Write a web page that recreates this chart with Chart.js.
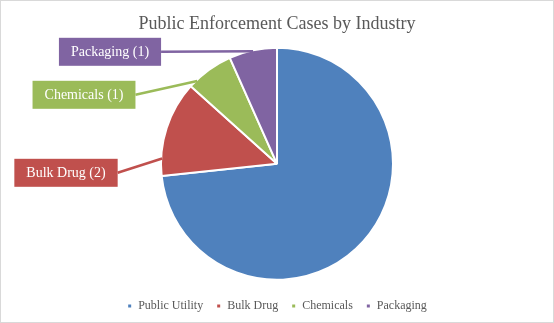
<!DOCTYPE html>
<html lang="en">
<head>
    <meta charset="UTF-8">
    <title>Public Enforcement Cases by Industry</title>
    <style>
        body {
            margin: 0;
            background-color: #fff;
        }

        .chart-box {
            width: 554px;
            height: 323px;
            box-sizing: border-box;
            border: 1px solid #d9d9d9;
            position: relative;
        }
    </style>
</head>
<body>

    <div class="chart-box">
        <canvas id="industryChart"></canvas>
    </div>

    <script src="https://cdn.jsdelivr.net/npm/chart.js"></script>
    <script>
        // Chart data
        const industries = ['Public Utility', 'Bulk Drug', 'Chemicals', 'Packaging'];
        const caseCounts = [11, 2, 1, 1];
        const sliceColors = ['#4f81bd', '#c0504d', '#9bbb59', '#8064a2'];

        // Callout box offsets from the pie centre (null = no callout)
        const calloutOffsets = [null, [-211, 9], [-193, -69], [-167, -112]];
        // where along the slice edge the leader line ends (0 = start, 1 = end)
        const leaderFrac = [null, 0.18, 0.17, 0.5];

        const serif = "'Liberation Serif', 'Times New Roman', serif";

        // Draws Excel-like callout labels with leader lines
        const calloutPlugin = {
            id: 'callouts',
            afterDatasetsDraw(chart) {
                const ctx = chart.ctx;
                const meta = chart.getDatasetMeta(0);
                ctx.save();
                ctx.font = '14px ' + serif;
                meta.data.forEach((arc, i) => {
                    const off = calloutOffsets[i];
                    if (!off) return;
                    const cx = arc.x, cy = arc.y, r = arc.outerRadius;
                    const text = industries[i] + ' (' + caseCounts[i] + ')';
                    const w = ctx.measureText(text).width + 24;
                    const h = 28;
                    const bx = cx + off[0], by = cy + off[1];

                    // leader line from box right edge to the slice edge
                    const ang = arc.startAngle + (arc.endAngle - arc.startAngle) * leaderFrac[i];
                    const tx = cx + Math.cos(ang) * (r - 1);
                    const ty = cy + Math.sin(ang) * (r - 1);
                    ctx.strokeStyle = sliceColors[i];
                    ctx.lineWidth = 2.5;
                    ctx.beginPath();
                    ctx.moveTo(bx + w / 2, by);
                    ctx.lineTo(tx, ty);
                    ctx.stroke();

                    // box
                    ctx.fillStyle = sliceColors[i];
                    ctx.fillRect(bx - w / 2, by - h / 2, w, h);
                    ctx.fillStyle = '#fff';
                    ctx.textAlign = 'center';
                    ctx.textBaseline = 'middle';
                    ctx.fillText(text, bx, by + 1);
                });
                ctx.restore();
            }
        };

        const ctx = document.getElementById('industryChart').getContext('2d');
        new Chart(ctx, {
            type: 'pie',
            data: {
                labels: industries,
                datasets: [{
                    data: caseCounts,
                    backgroundColor: sliceColors,
                    borderColor: '#fff',
                    borderWidth: 2,
                    radius: 116
                }]
            },
            options: {
                responsive: true,
                maintainAspectRatio: false,
                animation: false,
                layout: {
                    padding: 0
                },
                plugins: {
                    title: {
                        display: true,
                        text: 'Public Enforcement Cases by Industry',
                        color: '#595959',
                        font: { family: serif, size: 18, weight: 'normal' },
                        padding: { top: 12, bottom: 6 }
                    },
                    legend: {
                        position: 'bottom',
                        labels: {
                            color: '#595959',
                            font: { family: serif, size: 12 },
                            usePointStyle: true,
                            pointStyle: 'rect',
                            boxWidth: 5,
                            boxHeight: 5,
                            padding: 13
                        }
                    },
                    tooltip: { enabled: false }
                }
            },
            plugins: [calloutPlugin]
        });
    </script>
</body>
</html>
